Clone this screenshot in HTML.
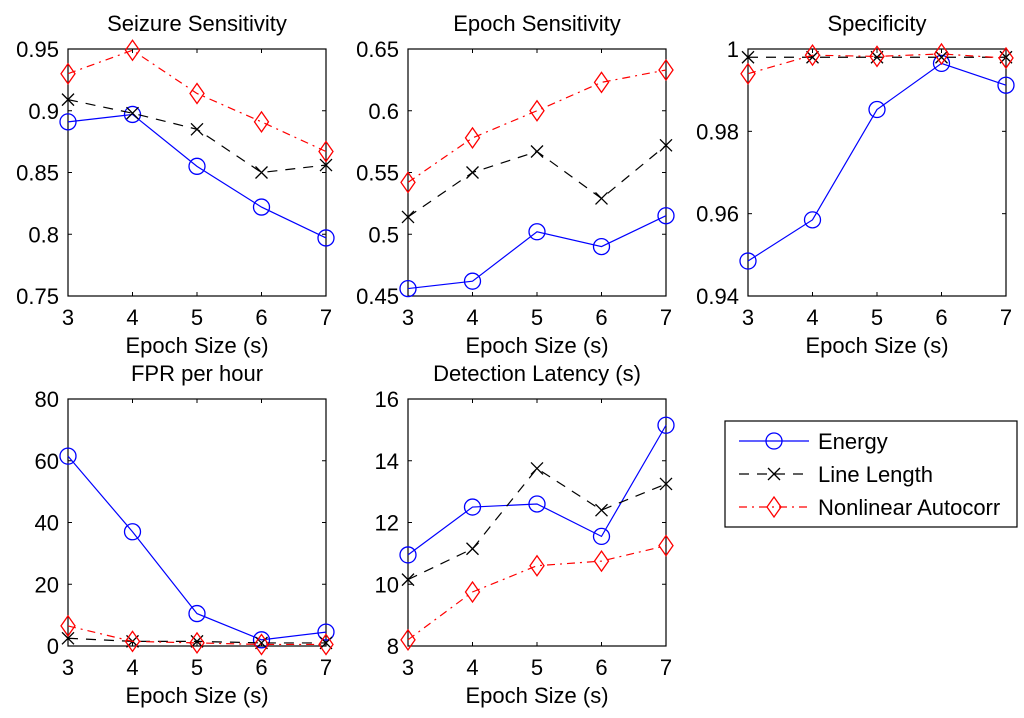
<!DOCTYPE html>
<html><head><meta charset="utf-8"><style>
body{margin:0;background:#fff;}
svg{display:block;font-family:"Liberation Sans",Arial,sans-serif;}
</style></head><body>
<svg id="c" width="1024" height="718" viewBox="0 0 1024 718"></svg>
<script>
const xCats=[3,4,5,6,7];
const p1Energy=[0.891,0.897,0.855,0.822,0.797];
const p1Line=[0.909,0.898,0.885,0.850,0.856];
const p1Nl=[0.930,0.949,0.914,0.891,0.867];
const p1Ticks=[0.75,0.8,0.85,0.9,0.95];
const p2Energy=[0.456,0.462,0.502,0.490,0.515];
const p2Line=[0.514,0.550,0.567,0.529,0.572];
const p2Nl=[0.542,0.578,0.600,0.623,0.633];
const p2Ticks=[0.45,0.5,0.55,0.6,0.65];
const p3Energy=[0.9485,0.9585,0.9853,0.9965,0.9912];
const p3Line=[0.998,0.998,0.998,0.998,0.998];
const p3Nl=[0.994,0.9985,0.9982,0.9988,0.9978];
const p3Ticks=[0.94,0.96,0.98,1];
const p4Energy=[61.5,37,10.5,2,4.5];
const p4Line=[2.5,1.5,1.5,1,1];
const p4Nl=[6.5,1.5,1,0.5,0.5];
const p4Ticks=[0,20,40,60,80];
const p5Energy=[10.95,12.5,12.6,11.55,15.15];
const p5Line=[10.15,11.15,13.75,12.4,13.25];
const p5Nl=[8.2,9.75,10.6,10.75,11.25];
const p5Ticks=[8,10,12,14,16];
const tickLabels={p1:["0.75","0.8","0.85","0.9","0.95"],p2:["0.45","0.5","0.55","0.6","0.65"],p3:["0.94","0.96","0.98","1"],p4:["0","20","40","60","80"],p5:["8","10","12","14","16"]};

const svg=document.getElementById('c');
const NS='http://www.w3.org/2000/svg';
function mk(t,a,p){const e=document.createElementNS(NS,t);for(const k in a)e.setAttribute(k,a[k]);(p||svg).appendChild(e);return e;}

const panels=[
 {id:'p1',title:'Seizure Sensitivity',x0:68,y0:49,ymin:0.75,ymax:0.95,ticks:p1Ticks,s:[p1Energy,p1Line,p1Nl]},
 {id:'p2',title:'Epoch Sensitivity',x0:408,y0:49,ymin:0.45,ymax:0.65,ticks:p2Ticks,s:[p2Energy,p2Line,p2Nl]},
 {id:'p3',title:'Specificity',x0:748,y0:49,ymin:0.94,ymax:1,ticks:p3Ticks,s:[p3Energy,p3Line,p3Nl]},
 {id:'p4',title:'FPR per hour',x0:68,y0:399,ymin:0,ymax:80,ticks:p4Ticks,s:[p4Energy,p4Line,p4Nl]},
 {id:'p5',title:'Detection Latency (s)',x0:408,y0:399,ymin:8,ymax:16,ticks:p5Ticks,s:[p5Energy,p5Line,p5Nl]}
];
const W=258,H=247,FS=22;
const styles=[
 {name:'energy',color:'#0000ff',dash:'',mk:'o'},
 {name:'line-length',color:'#000',dash:'10,8',mk:'x'},
 {name:'nonlinear-autocorr',color:'#ff0000',dash:'8,5,2,5',mk:'d'}
];
function marker(g,m,x,y,c){
 if(m==='o')mk('circle',{cx:x,cy:y,r:8,fill:'none',stroke:c,'stroke-width':1.3},g);
 else if(m==='x'){mk('path',{d:`M${x-6},${y-6}L${x+6},${y+6}M${x-6},${y+6}L${x+6},${y-6}`,stroke:c,'stroke-width':1.3},g);}
 else mk('path',{d:`M${x},${y-10}L${x+7},${y}L${x},${y+10}L${x-7},${y}Z`,fill:'none',stroke:c,'stroke-width':1.3},g);
}
panels.forEach(p=>{
 const g=mk('g',{});
 
 
 const xs=v=>p.x0+(v-3)/4*W;
 const ys=v=>p.y0+H-(v-p.ymin)/(p.ymax-p.ymin)*H;
 const t=mk('text',{x:p.x0+W/2,y:p.y0-18,'text-anchor':'middle','font-size':FS},g);t.textContent=p.title;
 
 mk('rect',{x:p.x0,y:p.y0,width:W,height:H,fill:'none',stroke:'#000','stroke-width':1.2},g);
 xCats.forEach(v=>{
  const x=xs(v);
  mk('line',{x1:x,y1:p.y0+H,x2:x,y2:p.y0+H-4,stroke:'#000'},g);
  mk('line',{x1:x,y1:p.y0,x2:x,y2:p.y0+4,stroke:'#000'},g);
  const l=mk('text',{x:x,y:p.y0+H+29,'text-anchor':'middle','font-size':FS},g);l.textContent=v;
 });
 p.ticks.forEach((v,i)=>{
  const y=ys(v);
  mk('line',{x1:p.x0,y1:y,x2:p.x0+4,y2:y,stroke:'#000'},g);
  mk('line',{x1:p.x0+W,y1:y,x2:p.x0+W-4,y2:y,stroke:'#000'},g);
  const l=mk('text',{x:p.x0-9,y:y+8,'text-anchor':'end','font-size':FS},g);l.textContent=tickLabels[p.id][i];
 });
 const xl=mk('text',{x:p.x0+W/2,y:p.y0+H+57,'text-anchor':'middle','font-size':FS},g);xl.textContent='Epoch Size (s)';
 
 p.s.forEach((arr,si)=>{
  const st=styles[si];
  const pts=arr.map((v,i)=>xs(xCats[i])+','+ys(v)).join(' ');
  const pl=mk('polyline',{points:pts,fill:'none',stroke:st.color,'stroke-width':1.2,'stroke-dasharray':st.dash},g);
  
  arr.forEach((v,i)=>marker(g,st.mk,xs(xCats[i]),ys(v),st.color));
 });
});
// legend
const lg=mk('g',{});


mk('rect',{x:725,y:421,width:292,height:106,fill:'#fff',stroke:'#000','stroke-width':1.2},lg);
const lnames=['Energy','Line Length','Nonlinear Autocorr'];
lnames.forEach((n,i)=>{
 const y=441+i*33,st=styles[i];
 mk('line',{x1:739,y1:y,x2:809,y2:y,stroke:st.color,'stroke-width':1.2,'stroke-dasharray':st.dash},lg);
 marker(lg,st.mk,774,y,st.color);
 const t=mk('text',{x:818,y:y+8,'font-size':FS},lg);t.textContent=n;
 
});
</script>
</body></html>
